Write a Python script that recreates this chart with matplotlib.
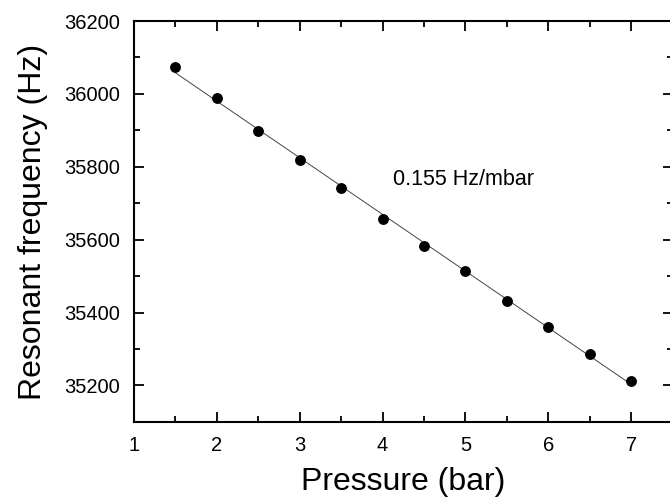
import numpy as np
import matplotlib
matplotlib.use("Agg")
import matplotlib.pyplot as plt
from matplotlib.ticker import MultipleLocator

pressure = [1.5, 2.0, 2.5, 3.0, 3.5, 4.0, 4.5, 5.0, 5.5, 6.0, 6.5, 7.0]
frequency = [36073, 35988, 35898, 35818, 35742, 35658, 35583, 35513, 35432, 35359, 35287, 35213]
annotation = "0.155 Hz/mbar"
x_label = "Pressure (bar)"
y_label = "Resonant frequency (Hz)"

plt.rcParams['font.family'] = ['Liberation Sans', 'DejaVu Sans']

fig = plt.figure(figsize=(6.70, 5.01), dpi=100)
ax = fig.add_axes([0.2, 0.158, 0.804, 0.800])

p = np.array(pressure)
f = np.array(frequency)
coef = np.polyfit(p, f, 1)
ax.plot(p, np.polyval(coef, p), color='#444444', lw=0.7, zorder=2)
ax.plot(p, f, 'o', color='black', ms=6.8, zorder=3)

ax.set_xlim(1, 7.5)
ax.set_ylim(35100, 36200)
ax.xaxis.set_minor_locator(MultipleLocator(0.5))
ax.yaxis.set_major_locator(MultipleLocator(200))
ax.yaxis.set_minor_locator(MultipleLocator(100))
ax.set_xticks([1, 2, 3, 4, 5, 6, 7])
ax.tick_params(which='both', direction='in', top=True, right=True, width=1.3, labelsize=14.5)
ax.tick_params(which='major', length=7)
ax.tick_params(axis='x', which='major', pad=10)
ax.tick_params(axis='y', which='major', pad=10)
ax.tick_params(which='minor', length=4.5)
for s in ax.spines.values():
    s.set_linewidth(1.5)

ax.set_xlabel(x_label, fontsize=23, labelpad=9)
ax.set_ylabel(y_label, fontsize=23, labelpad=12)
ax.text(4.12, 35765, annotation, fontsize=15.5, ha='left', va='center')

fig.savefig("out.png", dpi=100)
